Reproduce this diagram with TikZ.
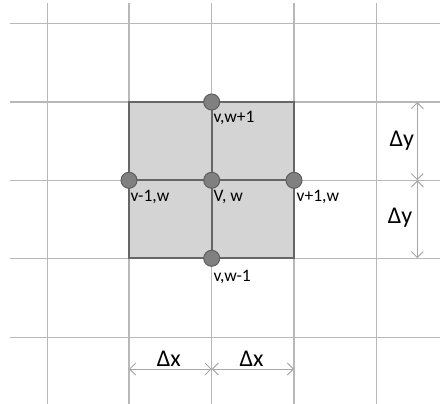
\documentclass[tikz,border=0pt]{standalone}
\usepackage{fontspec}
\setmainfont{Carlito}
\usetikzlibrary{arrows.meta}
\definecolor{gridgray}{HTML}{B8B8B8}
\definecolor{cellfill}{HTML}{D4D4D4}
\definecolor{cellborder}{HTML}{666666}
\definecolor{dotfill}{HTML}{808080}
\definecolor{dotborder}{HTML}{5E5E5E}
\definecolor{dimgray}{HTML}{A8A8A8}
\begin{document}
\begin{tikzpicture}[x=1pt,y=-1pt,
  gridline/.style={draw=gridgray, line width=1.1pt},
  cell/.style={draw=cellborder, fill=cellfill, line width=2pt},
  inner/.style={draw=cellborder, line width=2pt},
  dot/.style={circle, fill=dotfill, draw=dotborder, line width=1pt, minimum size=16pt, inner sep=0pt},
  lbl/.style={anchor=base west, inner sep=0pt, font=\fontsize{17.5}{20}\selectfont, text=black},
  dlbl/.style={anchor=base west, inner sep=0pt, font=\fontsize{24}{28}\selectfont, text=black},
  dimarrow/.style={draw=dimgray, line width=1pt, {Straight Barb[length=6pt,width=12pt]}-{Straight Barb[length=6pt,width=12pt]}}
]
\useasboundingbox (0,0) rectangle (440,404);
% grid
\foreach \x in {47.7,129,211.7,294,376.7} \draw[gridline] (\x,3) -- (\x,404);
\foreach \y in {23.3,102,180.3,258.3,337.7} \draw[gridline] (10,\y) -- (440,\y);
% shaded cells
\draw[cell] (129,102) rectangle (294,258.3);
\draw[inner] (211.7,102) -- (211.7,258.3);
\draw[inner] (129,180.3) -- (294,180.3);
% dots
\node[dot] (top) at (211.7,102) {};
\node[dot] (left) at (129,180.3) {};
\node[dot] (center) at (211.7,180.3) {};
\node[dot] (right) at (294,180.3) {};
\node[dot] (bottom) at (211.7,258.3) {};
% labels
\node[lbl] (ltop) at (213.3,123) {v,w+1};
\node[lbl] (lleft) at (130.5,201.7) {v-1,w};
\node[lbl] (lcenter) at (213.3,201.7) {V, w};
\node[lbl] (lright) at (296.5,201.7) {v+1,w};
\node[lbl] (lbottom) at (213.3,281) {v,w-1};
% dimension coordinates
\coordinate (dx0) at (129,369);
\coordinate (dx1) at (211.7,369);
\coordinate (dx2) at (294,369);
\coordinate (dy0) at (417.3,102);
\coordinate (dy1) at (417.3,180.3);
\coordinate (dy2) at (417.3,258.3);
\draw[dimarrow] (dx0) -- (dx1);
\draw[dimarrow] (dx1) -- (dx2);
\draw[dimarrow] (dy0) -- (dy1);
\draw[dimarrow] (dy1) -- (dy2);
\node[dlbl] (dxa) at (156.7,366) {Δx};
\node[dlbl] (dxb) at (239.3,366) {Δx};
\node[dlbl] (dya) at (389.3,146.7) {Δy};
\node[dlbl] (dyb) at (387.7,223) {Δy};
\end{tikzpicture}
\end{document}
